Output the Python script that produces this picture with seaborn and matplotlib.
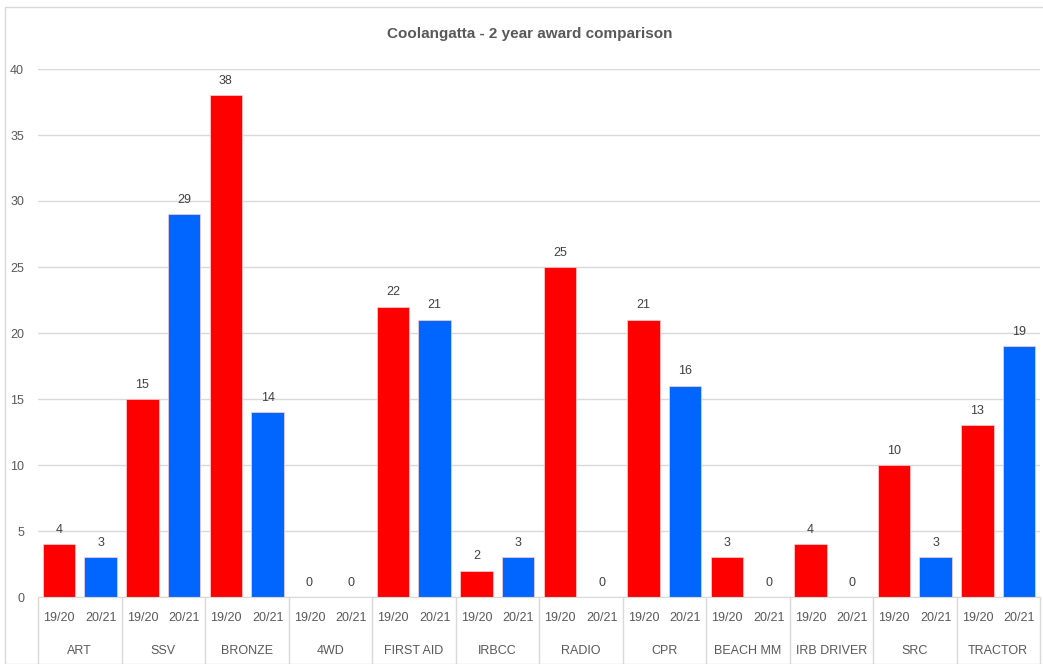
import pandas as pd
import matplotlib.pyplot as plt
import matplotlib.transforms as mtransforms
from matplotlib.patches import Rectangle
import seaborn as sns

# Award counts per category, two seasons
categories = ['ART', 'SSV', 'BRONZE', '4WD', 'FIRST AID', 'IRBCC', 'RADIO',
              'CPR', 'BEACH MM', 'IRB DRIVER', 'SRC', 'TRACTOR']
seasons = ['19/20', '20/21']
awards_1920 = [4, 15, 38, 0, 22, 2, 25, 21, 3, 4, 10, 13]
awards_2021 = [3, 29, 14, 0, 21, 3, 0, 16, 0, 0, 3, 19]
y_ticks = [0, 5, 10, 15, 20, 25, 30, 35, 40]

rows = []
for cat, a, b in zip(categories, awards_1920, awards_2021):
    rows.append({'Slot': cat + ' ' + seasons[0], 'Category': cat, 'Season': seasons[0], 'Awards': a})
    rows.append({'Slot': cat + ' ' + seasons[1], 'Category': cat, 'Season': seasons[1], 'Awards': b})
df = pd.DataFrame(rows)

sns.set_style('white')
plt.rcParams['font.family'] = ['Liberation Sans Narrow', 'Liberation Sans', 'DejaVu Sans']

grey_text = '#595959'
grid_col = '#d9d9d9'

fig = plt.figure(figsize=(10.43, 6.64), dpi=100)
ax = fig.add_axes([38 / 1043, 67 / 664, (1040 - 38) / 1043, 528 / 664])

sns.barplot(data=df, x='Slot', y='Awards', hue='Season',
            palette={'19/20': '#ff0000', '20/21': '#0066ff'},
            saturation=1, dodge=False, width=0.78, legend=False, ax=ax,
            edgecolor='#ffd0d0', linewidth=0.5)

for cont in ax.containers:
    ax.bar_label(cont, padding=6, fontsize=9, color='#404040')

ax.set_ylim(0, 40)
ax.set_yticks(y_ticks)
ax.set_xlim(-0.5, len(df) - 0.5)
ax.yaxis.grid(True, color=grid_col, linewidth=1)
ax.set_axisbelow(True)
for s in ['top', 'right', 'left']:
    ax.spines[s].set_visible(False)
ax.spines['bottom'].set_color(grid_col)

ax.set_xticks(range(len(df)))
ax.set_xticklabels(df['Season'], fontsize=9, color=grey_text)
ax.tick_params(axis='x', length=0, pad=11)
ax.tick_params(axis='y', length=0, labelsize=9, labelcolor=grey_text, pad=10)
ax.set_xlabel('')
ax.set_ylabel('')

# group labels and separators under the axis
trans = mtransforms.blended_transform_factory(ax.transData, ax.transAxes)
for i, cat in enumerate(categories):
    ax.text(2 * i + 0.5, -0.102, cat, transform=trans, ha='center', va='center',
            fontsize=9, color=grey_text)
for i in range(len(categories) + 1):
    ax.plot([2 * i - 0.5, 2 * i - 0.5], [0, -0.13], transform=trans,
            color=grid_col, linewidth=1, clip_on=False)

fig.text(530 / 1043, 1 - 34 / 664, 'Coolangatta - 2 year award comparison',
         ha='center', va='center', fontsize=11, fontweight='bold', color=grey_text)

# chart border
fig.patches.append(Rectangle((5 / 1043, 0), 1.0, 1 - 7 / 664, transform=fig.transFigure,
                             fill=False, edgecolor=grid_col, linewidth=1))

fig.savefig('out.png', dpi=100)
